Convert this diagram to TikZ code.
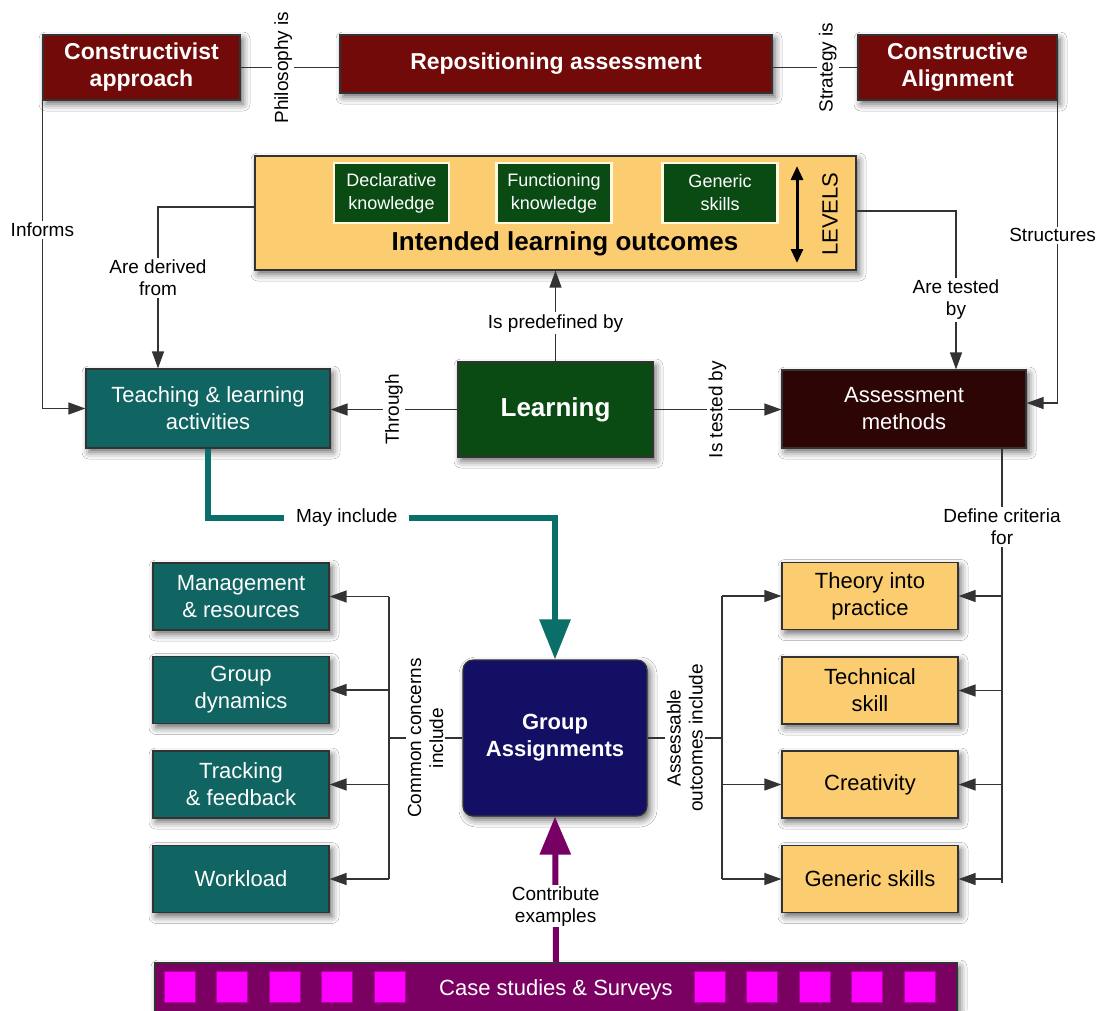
\documentclass[tikz,border=0pt]{standalone}
\usepackage{fontspec}
\setmainfont{Liberation Sans}
\usepackage{tikz}
\usetikzlibrary{arrows.meta,shadows.blur}

\definecolor{boxred}{RGB}{114,10,10}
\definecolor{boxgold}{RGB}{251,205,112}
\definecolor{boxleaf}{RGB}{10,75,20}
\definecolor{boxteal}{RGB}{16,100,98}
\definecolor{boxchoc}{RGB}{45,5,5}
\definecolor{boxnavy}{RGB}{18,15,100}
\definecolor{boxplum}{RGB}{122,0,98}
\definecolor{boxpink}{RGB}{255,0,255}
\definecolor{boxcream}{RGB}{255,248,225}
\definecolor{arrteal}{RGB}{10,110,105}
\definecolor{arrplum}{RGB}{120,0,100}

\tikzset{
  box/.style={draw=black!80, line width=1.2pt, inner sep=0pt, align=center,
    blur shadow={shadow xshift=3pt,shadow yshift=-4pt,shadow blur radius=7pt,shadow opacity=60}},
  redbox/.style={box, fill=boxred, text=white, font=\bfseries\fontsize{23}{27}\selectfont},
  tealbox/.style={box, fill=boxteal, text=white, font=\fontsize{22}{27}\selectfont,
    minimum width=176pt, minimum height=67pt},
  goldbox/.style={box, fill=boxgold, text=black, font=\fontsize{22}{27}\selectfont,
    minimum width=176pt, minimum height=67pt},
  lvlbox/.style={draw=boxcream, line width=2.5pt, fill=boxleaf, text=white, align=center,
    font=\fontsize{18}{23}\selectfont, minimum width=115pt, minimum height=60pt, inner sep=0pt},
  sqbox/.style={draw=boxplum!60!boxpink, line width=1pt, fill=boxpink, inner sep=0pt,
    minimum width=31pt, minimum height=31pt},
  lbl/.style={fill=white, text=black, inner sep=2pt, align=center, font=\fontsize{19}{22}\selectfont},
  link/.style={draw=black!80, line width=1.3pt},
  arr/.style={link, -{Triangle[length=17pt,width=12pt]}},
}

\begin{document}
\begin{tikzpicture}[x=1pt,y=-1pt]

\fill[white] (0,0) rectangle (1099,1010);
\useasboundingbox (0,0) rectangle (1099,1010);

\node[redbox, minimum width=197pt, minimum height=65pt] (constr) at (141.5,67.5) {Constructivist\\approach};
\node[redbox, minimum width=432pt, minimum height=58pt] (repos) at (556,64) {Repositioning assessment};
\node[redbox, minimum width=199pt, minimum height=65pt] (align) at (957.5,67.5) {Constructive\\Alignment};

\draw[link] (constr.east) -- node[lbl, rotate=90, pos=0.43] (philo) {Philosophy is} (constr.east -| repos.west);
\draw[link] (repos.east |- align.west) -- node[lbl, rotate=90, pos=0.65] (strat) {Strategy is} (align.west);

\node[box, fill=boxgold, minimum width=601pt, minimum height=114pt] (ilo) at (555.5,213) {};
\node[lvlbox] (decl) at (391.5,193) {Declarative\\knowledge};
\node[lvlbox] (func) at (554,193) {Functioning\\knowledge};
\node[lvlbox] (gen) at (720,193) {Generic\\skills};
\node[font=\bfseries\fontsize{26}{28}\selectfont] (ilotitle) at (565,244) {Intended learning outcomes};
\coordinate (lvltop) at (797,166);
\coordinate (lvlbot) at (797,263);
\draw[line width=3pt, {Triangle[length=14pt,width=12pt]}-{Triangle[length=14pt,width=12pt]}] (lvltop) -- (lvlbot);
\node[rotate=90, font=\fontsize{22}{24}\selectfont] (levels) at (830,214) {LEVELS};

\node[tealbox, minimum width=244pt, minimum height=79pt] (tla) at (208,408.5) {Teaching \& learning\\activities};
\node[box, fill=boxleaf, text=white, font=\bfseries\fontsize{26}{28}\selectfont,
  minimum width=195pt, minimum height=95pt] (learn) at (555.5,409.5) {Learning};
\node[box, fill=boxchoc, text=white, font=\fontsize{22}{27}\selectfont,
  minimum width=244pt, minimum height=78pt] (assess) at (904,409) {Assessment\\methods};

\draw[arr] (constr.south west) |- node[lbl, pos=0.21] (informs) {Informs} (tla.west);
\draw[arr] (align.east) |- node[lbl, pos=0.25, xshift=-5pt] (structs) {Structures} ([yshift=6pt]assess.east);
\draw[arr] ([yshift=6pt]ilo.west) -| node[lbl, pos=0.72] (derived) {Are derived\\from} ([xshift=-50pt]tla.north);
\draw[arr] ([yshift=2pt]ilo.east) -| node[lbl, pos=0.78] (tested) {Are tested\\by} ([xshift=52pt]assess.north);
\draw[arr] (learn) -- node[lbl, pos=0.42] (predef) {Is predefined by} (ilo);
\draw[arr] (learn.west) -- node[lbl, rotate=90] (through) {Through} (learn.west -| tla.east);
\draw[arr] (learn.east) -- node[lbl, rotate=90] (istested) {Is tested by} (learn.east -| assess.west);

\node[box, fill=boxnavy, text=white, rounded corners=10pt, font=\bfseries\fontsize{22}{27}\selectfont,
  minimum width=184pt, minimum height=156pt] (ga) at (555,738) {Group\\Assignments};

\draw[arrteal, line width=6pt, -{Triangle[length=40pt,width=30pt]}]
  (tla.south) |- node[lbl, pos=0.7, inner xsep=12pt] (mayinc) {May include} (ga.north |- 0,518) -- (ga.north);

\node[tealbox] (mr) at (241,596.5) {Management\\\& resources};
\node[tealbox] (gd) at (241,690) {Group\\dynamics};
\node[tealbox] (tf) at (241,784.5) {Tracking\\\& feedback};
\node[tealbox] (wl) at (241,879) {Workload};

\node[goldbox] (tp) at (870,596) {Theory into\\practice};
\node[goldbox] (ts) at (870,690.5) {Technical\\skill};
\node[goldbox] (cr) at (870,784.5) {Creativity};
\node[goldbox] (gsk) at (870,879) {Generic skills};

\coordinate (cc) at (389,738);
\draw[link] (ga.west) -- node[lbl, rotate=90] (common) {Common concerns\\include} (ga.west -| cc);
\draw[link] (cc |- mr.east) -- (cc |- wl.east);
\foreach \b in {mr,gd,tf,wl}
  \draw[arr] (cc |- \b.east) -- (\b.east);

\coordinate (ao) at (722,739);
\draw[link] (ga.east) -- node[lbl, rotate=90] (assessable) {Assessable\\outcomes include} (ga.east -| ao);
\draw[link] (ao |- tp.west) -- (ao |- gsk.west);
\foreach \b in {tp,cr,gsk}
  \draw[arr] (ao |- \b.west) -- (\b.west);

\coordinate (dc) at (1002,883);
\draw[link] (assess.south -| dc) -- node[lbl, pos=0.18] (criteria) {Define criteria\\for} (dc);
\foreach \b in {tp,ts,cr,gsk}
  \draw[arr] (\b.east -| dc) -- (\b.east);

\node[box, fill=boxplum, text=white, font=\fontsize{22}{24}\selectfont,
  minimum width=802pt, minimum height=54pt] (cases) at (556,990) {Case studies \& Surveys};
\foreach \x [count=\i] in {179.5,232,284.5,337,389.5,709.5,762,814.5,867,919.5}
  \node[sqbox] (sq\i) at (\x,987) {};

\draw[arrplum, line width=6pt, -{Triangle[length=38pt,width=30pt]}]
  (cases.north) -- node[lbl, pos=0.385, inner sep=1pt] (contrib) {Contribute\\examples} (ga.south);

\end{tikzpicture}
\end{document}
